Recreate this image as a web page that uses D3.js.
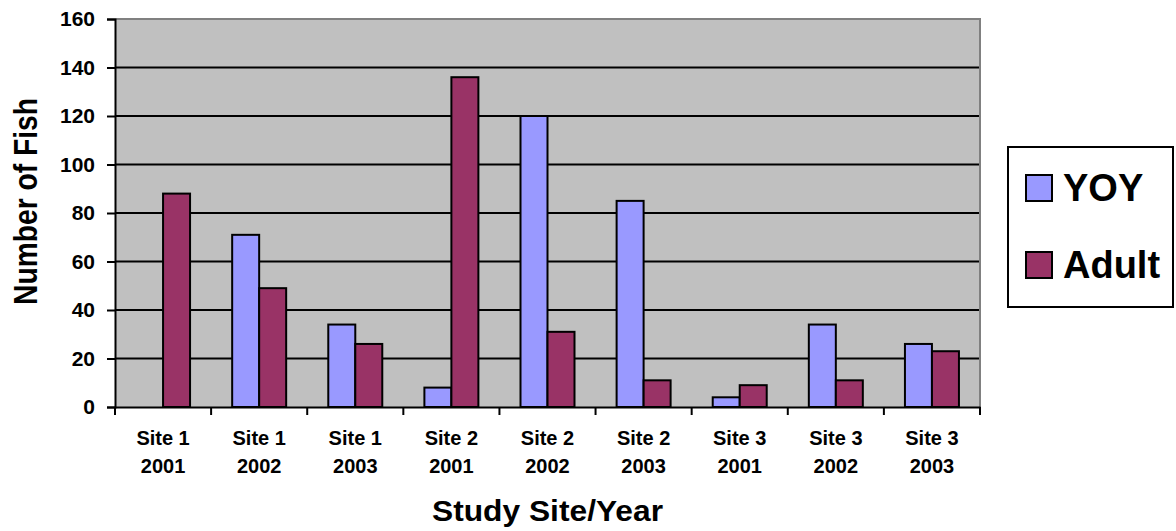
<!DOCTYPE html>
<html>
<head>
<meta charset="utf-8">
<script src="https://cdn.jsdelivr.net/npm/d3@7"></script>
<style>
  body { margin: 0; background: #fff; }
  text { font-family: "Liberation Sans", Arial, sans-serif; font-weight: bold; fill: #000; }
</style>
</head>
<body>
<svg id="chart"></svg>
<script>
const width = 1176;
const height = 531;

// data
const sites = ["Site 1", "Site 1", "Site 1", "Site 2", "Site 2", "Site 2", "Site 3", "Site 3", "Site 3"];
const years = ["2001", "2002", "2003", "2001", "2002", "2003", "2001", "2002", "2003"];
const series = ["YOY", "Adult"];
const yoy = [0, 71, 34, 8, 120, 85, 4, 34, 26];
const adult = [88, 49, 26, 136, 31, 11, 9, 11, 23];
const yTicks = [0, 20, 40, 60, 80, 100, 120, 140, 160];
const colors = { YOY: "#9999FF", Adult: "#993366" };

const margin = { top: 19, right: 196, bottom: 124, left: 115 };

const svg = d3.select("#chart")
    .attr("width", width)
    .attr("height", height);

const cats = sites.map((s, i) => i);
const rows = cats.map(i => ({ i, YOY: yoy[i], Adult: adult[i] }));

const x0 = d3.scaleBand()
    .domain(cats)
    .range([margin.left, width - margin.right])
    .padding(0);

const x1 = d3.scaleBand()
    .domain(series)
    .range([0, x0.bandwidth()])
    .paddingInner(0)
    .paddingOuter(0.78);

const y = d3.scaleLinear()
    .domain([0, 160])
    .range([height - margin.bottom, margin.top]);

// plot background
svg.append("rect")
    .attr("x", margin.left)
    .attr("y", margin.top)
    .attr("width", width - margin.left - margin.right)
    .attr("height", y(0) - margin.top)
    .attr("fill", "#C0C0C0");

// gridlines
svg.append("g")
    .selectAll("line")
    .data(yTicks.filter(t => t > 0 && t < 160))
    .enter()
    .append("line")
    .attr("x1", margin.left)
    .attr("x2", width - margin.right)
    .attr("y1", d => y(d))
    .attr("y2", d => y(d))
    .attr("stroke", "#000")
    .attr("stroke-width", 2);

// gray border top/right
svg.append("path")
    .attr("d", `M${margin.left},${y(160)}H${width - margin.right}V${y(0)}`)
    .attr("fill", "none")
    .attr("stroke", "#808080")
    .attr("stroke-width", 2);

// bars
const groups = svg.append("g")
    .selectAll("g")
    .data(rows)
    .enter()
    .append("g")
    .attr("transform", d => `translate(${x0(d.i)},0)`);

groups.selectAll("rect")
    .data(d => series.map(k => ({ key: k, value: d[k] })).filter(d => d.value > 0))
    .enter()
    .append("rect")
    .attr("x", d => x1(d.key))
    .attr("y", d => y(d.value))
    .attr("width", x1.bandwidth())
    .attr("height", d => y(0) - y(d.value))
    .attr("fill", d => colors[d.key])
    .attr("stroke", "#000")
    .attr("stroke-width", 2);

// y axis
const yAxis = svg.append("g")
    .attr("transform", `translate(${margin.left},0)`)
    .call(d3.axisLeft(y).tickValues(yTicks).tickSize(8).tickPadding(12));
yAxis.select(".domain").attr("stroke", "#000").attr("stroke-width", 2);
yAxis.selectAll(".tick line").attr("stroke", "#000").attr("stroke-width", 2);
yAxis.selectAll(".tick text")
    .attr("font-size", 21)
    .attr("font-family", "Liberation Sans, Arial, sans-serif")
    .attr("font-weight", "bold")
    .attr("fill", "#000");

// x axis
const xAxis = svg.append("g")
    .attr("transform", `translate(0,${y(0)})`)
    .call(d3.axisBottom(x0).tickSize(0).tickFormat(""));
xAxis.select(".domain").attr("stroke", "#000").attr("stroke-width", 2);
xAxis.selectAll(".tick").remove();

const bounds = cats.map(i => x0(i)).concat([x0(cats[cats.length - 1]) + x0.bandwidth()]);
xAxis.selectAll(".xtick")
    .data(bounds)
    .enter()
    .append("line")
    .attr("x1", d => d)
    .attr("x2", d => d)
    .attr("y1", 0)
    .attr("y2", 8)
    .attr("stroke", "#000")
    .attr("stroke-width", 2);

const lbl = svg.append("g")
    .selectAll("text")
    .data(cats)
    .enter()
    .append("text")
    .attr("x", d => x0(d) + x0.bandwidth() / 2)
    .attr("text-anchor", "middle")
    .attr("font-size", 20);
lbl.append("tspan")
    .attr("x", d => x0(d) + x0.bandwidth() / 2)
    .attr("y", 445)
    .text(d => sites[d]);
lbl.append("tspan")
    .attr("x", d => x0(d) + x0.bandwidth() / 2)
    .attr("y", 473)
    .text(d => years[d]);

// axis titles
svg.append("text")
    .attr("x", (margin.left + width - margin.right) / 2)
    .attr("y", 521)
    .attr("text-anchor", "middle")
    .attr("font-size", 29)
    .attr("textLength", 231)
    .attr("lengthAdjust", "spacingAndGlyphs")
    .text("Study Site/Year");

svg.append("text")
    .attr("transform", "translate(37,201.5) rotate(-90)")
    .attr("text-anchor", "middle")
    .attr("font-size", 34)
    .attr("textLength", 207)
    .attr("lengthAdjust", "spacingAndGlyphs")
    .text("Number of Fish");

// legend
const legend = svg.append("g");
legend.append("rect")
    .attr("x", 1008)
    .attr("y", 147)
    .attr("width", 165)
    .attr("height", 160)
    .attr("fill", "#fff")
    .attr("stroke", "#000")
    .attr("stroke-width", 2);

const items = legend.selectAll(".item")
    .data(series)
    .enter()
    .append("g")
    .attr("transform", (d, i) => `translate(1026,${175 + i * 77})`);
items.append("rect")
    .attr("width", 26)
    .attr("height", 26)
    .attr("fill", d => colors[d])
    .attr("stroke", "#000")
    .attr("stroke-width", 2);
items.append("text")
    .attr("x", 37)
    .attr("y", 26)
    .attr("font-size", 38)
    .text(d => d);
</script>
</body>
</html>
